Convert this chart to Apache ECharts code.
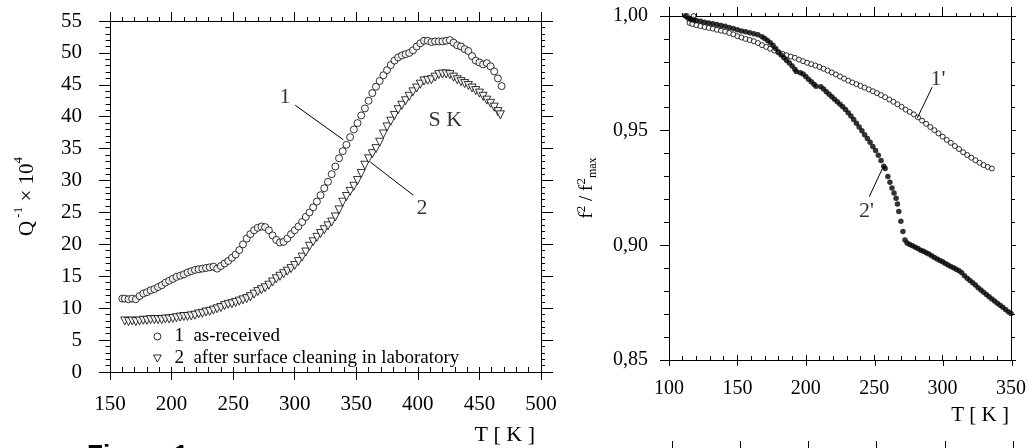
<!DOCTYPE html>
<html><head><meta charset="utf-8">
<script src="https://cdn.jsdelivr.net/npm/echarts@6/dist/echarts.min.js"></script>
<style>html,body{margin:0;padding:0;background:#fff}#c{width:1029px;height:448px}</style>
</head><body><div id="c"></div><script>
// ---------- Left panel data: Q^-1 x 10^4 vs T ----------
const legendNames = ['1  as-received', '2  after surface cleaning in laboratory'];
const T1 = [160,162,165,168,171,174,177,180,183,186,189,192,195,198,201,204,207,210,213,216,219,222,225,228,231,234,237,240,243,246,249,252,255,258,261,264,267,270,273,276,279,282,285,288,291,294,297,300,303,306,309,312,315,318,321,324,327,330,333,336,339,342,345,348,351,354,357,360,363,366,369,372,375,378,381,384,387,390,393,396,399,402,405,408,411,414,417,420,423,426,429,432,435,438,441,444,447,450,453,456,459,462,465,468];
const Q1 = [11.5,11.5,11.4,11.5,11.4,11.9,12.3,12.5,12.8,13.0,13.3,13.6,14.0,14.3,14.6,14.9,15.1,15.3,15.6,15.8,16.0,16.1,16.2,16.3,16.4,16.5,16.2,16.6,17.0,17.4,17.9,18.4,19.1,20.0,20.9,21.6,22.2,22.6,22.8,22.7,22.2,21.4,20.7,20.3,20.4,20.9,21.6,22.2,22.8,23.5,24.3,25.0,25.8,26.7,27.7,28.8,29.8,31.0,32.2,33.5,34.6,35.6,36.8,38.0,39.0,40.2,41.3,42.5,43.7,44.7,45.6,46.5,47.3,48.1,48.8,49.3,49.6,49.8,50.0,50.4,51.0,51.5,51.9,51.9,51.7,51.8,51.8,51.8,51.9,52.0,51.6,51.2,51.0,50.6,50.3,49.5,48.8,48.5,48.2,48.4,47.9,47.1,46.0,44.8];
const T2 = [162,165,168,171,174,177,180,183,186,189,192,195,198,201,204,207,210,213,216,219,222,225,228,231,234,237,240,243,246,249,252,255,258,261,264,267,270,273,276,279,282,285,288,291,294,297,300,303,306,309,312,315,318,321,324,327,330,333,336,339,342,345,348,351,354,357,360,363,366,369,372,375,378,381,384,387,390,393,396,399,402,405,408,411,414,417,420,423,426,429,432,435,438,441,444,447,450,453,456,459,462,465,467];
const Q2 = [8.0,7.9,8.0,7.9,8.0,8.1,8.1,8.2,8.2,8.2,8.2,8.3,8.3,8.4,8.5,8.6,8.7,8.7,8.8,8.9,9.1,9.2,9.4,9.5,9.7,9.9,10.1,10.4,10.6,10.7,10.9,11.1,11.3,11.5,11.8,12.2,12.6,12.9,13.2,13.6,14.1,14.6,15.0,15.4,15.8,16.2,16.7,17.3,18.0,18.8,19.7,20.4,21.1,21.7,22.3,22.9,23.5,24.3,25.4,26.6,27.5,28.3,29.1,30.0,31.1,32.4,33.4,34.2,35.0,36.0,37.3,38.4,39.3,40.2,41.1,41.8,42.5,43.2,43.9,44.5,45.1,45.6,45.7,45.8,46.2,46.6,46.7,46.7,46.6,46.2,45.8,45.5,45.2,44.9,44.5,44.1,43.7,43.2,42.6,42.1,41.5,40.8,40.3];

// ---------- Right panel data: f^2/f^2max vs T ----------
const Tr1 = [113,115,117,118,120,123,126,129,132,135,138,141,144,147,150,153,156,159,162,165,168,171,174,177,180,183,186,189,192,195,198,201,204,207,210,213,216,219,222,225,228,231,234,237,240,243,246,249,252,255,258,261,264,267,270,273,276,279,282,285,288,291,294,297,300,303,306,309,312,315,318,321,324,327,330,333,336];
const F1 = [1.000,0.9970,0.9965,1.000,0.9960,0.9956,0.9952,0.9948,0.9945,0.9940,0.9936,0.9932,0.9926,0.9920,0.9912,0.9906,0.9900,0.9895,0.9890,0.9882,0.9873,0.9865,0.9857,0.9849,0.9841,0.9835,0.9829,0.9823,0.9818,0.9810,0.9803,0.9796,0.9790,0.9784,0.9778,0.9770,0.9762,0.9754,0.9745,0.9736,0.9727,0.9718,0.9710,0.9703,0.9695,0.9688,0.9680,0.9672,0.9664,0.9655,0.9646,0.9636,0.9626,0.9615,0.9604,0.9592,0.9582,0.9571,0.9558,0.9544,0.9530,0.9516,0.9502,0.9488,0.9474,0.9460,0.9447,0.9433,0.9420,0.9406,0.9394,0.9382,0.9371,0.9360,0.9350,0.9342,0.9335];
const Tr2 = [112,114,116,118,120,123,126,129,132,135,138,141,144,147,150,153,156,159,162,165,168,170,172,174,176,178,180,182,184,186,188,190,192,193,196,198,200,202,204,206,207.5,211,213,215,217,219,221,223,225,227,229,231,233,235,237,239,241,243,245,247,249,251,253,255,257,258,260,261.5,263,264.5,266,267,268,269.5,271,272.5,274,276,278,280,282,284,286,288,290,292,294,296,298,300,302,304,306,308,310,312,314,316,318,320,322,324,326,328,330,332,334,336,338,340,342,344,346,348,350];
const F2 = [1.000,0.9990,0.9985,0.9983,0.9980,0.9977,0.9973,0.9969,0.9966,0.9963,0.9959,0.9955,0.9950,0.9945,0.9940,0.9935,0.9931,0.9927,0.9923,0.9918,0.9910,0.9902,0.9893,0.9883,0.9872,0.9858,0.9843,0.9830,0.9818,0.9806,0.9795,0.9782,0.9768,0.9758,0.9752,0.9747,0.9736,0.9724,0.9713,0.9702,0.9694,0.9692,0.9682,0.9670,0.9659,0.9648,0.9637,0.9626,0.9615,0.9604,0.9592,0.9578,0.9564,0.9549,0.9532,0.9516,0.9500,0.9482,0.9466,0.9450,0.9431,0.9413,0.9393,0.9370,0.9345,0.9335,0.9300,0.9275,0.9250,0.9228,0.9205,0.9180,0.9147,0.9105,0.9060,0.9023,0.9010,0.9004,0.8998,0.8992,0.8986,0.8979,0.8974,0.8968,0.8962,0.8955,0.8947,0.8940,0.8934,0.8928,0.8921,0.8914,0.8908,0.8902,0.8896,0.8889,0.8880,0.8867,0.8857,0.8847,0.8837,0.8827,0.8815,0.8805,0.8795,0.8786,0.8776,0.8766,0.8757,0.8748,0.8739,0.8730,0.8720,0.8710,0.8703];

// ---------- tick labels ----------
const leftXTicks = [150,200,250,300,350,400,450,500];
const leftYTicks = [0,5,10,15,20,25,30,35,40,45,50,55];
const rightXTicks = [100,150,200,250,300,350];
const rightYTicks = ['0,85','0,90','0,95','1,00'];

// ---------- annotations (data coordinates) ----------
const leaderL1 = [[300.4,41.8],[339.4,36.4]];
const leaderL2 = [[361.4,32.9],[396.3,27.7]];
const annLeft = [{t:'1',x:292.2,y:43.1},{t:'2',x:403.3,y:25.6},{t:'S K',x:422.3,y:39.4}];
const leaderR1 = [[292.4,0.969],[281.5,0.9555]];
const leaderR2 = [[246.4,0.9212],[256.0,0.9335]];
const annRight = [{t:"1'",x:296.6,y:0.9724},{t:"2'",x:244.4,y:0.9150}];

const FF = 'Liberation Serif';
const black = '#000';
const line = {show:true, onZero:false, lineStyle:{color:black, width:1}};

function xAx(grid, min, max, o) {
  return Object.assign({type:'value', gridIndex:grid, min:min, max:max, interval:50,
    splitLine:{show:false}, axisLine:line, axisLabel:{show:false}}, o);
}
function yAx(grid, min, max, interval, o) {
  return Object.assign({type:'value', gridIndex:grid, min:min, max:max, interval:interval,
    splitLine:{show:false}, axisLine:line, axisLabel:{show:false}}, o);
}
const tk = (len, inside) => ({show:true, inside:!!inside, length:len, lineStyle:{color:black, width:1}});
const mt = (len) => ({show:true, splitNumber:5, length:len, lineStyle:{color:black, width:1}});
const noLine = {show:false, onZero:false};

const chart = echarts.init(document.getElementById('c'), null, {renderer:'canvas'});
const option = {
  animation:false,
  backgroundColor:'#fff',
  grid:[
    {left:110, top:21, width:431, height:351},
    {left:110, top:21, width:431, height:351},
    {left:669, top:16, width:343, height:344},
    {left:669, top:16, width:343, height:344},
    {left:672, top:441, width:341, height:5}
  ],
  xAxis:[
    xAx(0,150,500,{position:'bottom', axisTick:tk(5,true), minorTick:mt(5),
      name:'T [ K ]', nameLocation:'end', nameGap:-6,
      nameTextStyle:{fontFamily:FF, fontSize:22, color:black, align:'right', verticalAlign:'top', padding:[52,0,0,0]},
      axisLabel:{show:true, fontFamily:FF, fontSize:21, color:black, margin:22,
        formatter:v=>String(leftXTicks[leftXTicks.indexOf(v)])}}),
    xAx(0,150,500,{position:'top', axisTick:tk(9,false), minorTick:mt(4)}),
    xAx(1,150,500,{position:'bottom', axisLine:noLine, axisTick:tk(8,false)}),
    xAx(2,100,350,{position:'bottom', axisTick:tk(5,true), minorTick:mt(4),
      name:'T [ K ]', nameLocation:'end', nameGap:-2,
      nameTextStyle:{fontFamily:FF, fontSize:21, color:black, align:'right', verticalAlign:'top', padding:[45,0,0,0]},
      axisLabel:{show:true, fontFamily:FF, fontSize:20, color:black, margin:19,
        formatter:v=>String(rightXTicks[rightXTicks.indexOf(v)])}}),
    xAx(2,100,350,{position:'top', axisTick:tk(9,false), minorTick:mt(3)}),
    xAx(3,100,350,{position:'bottom', axisLine:noLine, axisTick:tk(6,false)}),
    xAx(4,100,350,{position:'top', axisLine:noLine, axisTick:tk(10,true)})
  ],
  yAxis:[
    yAx(0,0,55,5,{position:'left', axisTick:tk(11,false), minorTick:mt(4.5),
      name:'{m|Q}{s| -1}{m| × 10}{s|4}', nameLocation:'middle', nameGap:72,
      nameTextStyle:{rich:{
        m:{fontFamily:FF, fontSize:21, color:black, lineHeight:26, verticalAlign:'bottom'},
        s:{fontFamily:FF, fontSize:13, color:black, lineHeight:26, verticalAlign:'top'}}},
      axisLabel:{show:true, fontFamily:FF, fontSize:21, color:black, margin:28,
        formatter:v=>String(leftYTicks[leftYTicks.indexOf(v)])}}),
    yAx(0,0,55,5,{position:'right', axisTick:tk(12,false), minorTick:mt(4)}),
    yAx(1,0,55,5,{show:false}),
    yAx(2,0.85,1.0,0.05,{position:'left', axisTick:tk(9,false), minorTick:mt(5),
      name:'{m|f}{s|2}{m| / f}{s|2}{b|max}', nameLocation:'middle', nameGap:70,
      nameTextStyle:{rich:{
        m:{fontFamily:FF, fontSize:19, color:black, lineHeight:24, verticalAlign:'middle'},
        s:{fontFamily:FF, fontSize:13, color:black, lineHeight:24, verticalAlign:'top'},
        b:{fontFamily:FF, fontSize:12, color:black, lineHeight:24, verticalAlign:'bottom'}}},
      axisLabel:{show:true, fontFamily:FF, fontSize:20, color:black, margin:21,
        formatter:v=>rightYTicks[Math.round((v-0.85)/0.05)]}}),
    yAx(2,0.85,1.0,0.05,{position:'right', axisTick:tk(5,false), minorTick:mt(4)}),
    yAx(3,0.85,1.0,0.05,{show:false}),
    yAx(4,0,1,1,{show:false})
  ],
  legend:{
    orient:'vertical', left:148, top:322, itemGap:3, itemWidth:8, itemHeight:7,
    textStyle:{fontFamily:FF, fontSize:19, color:black, padding:[0,0,0,8]},
    data:[
      {name:legendNames[0], icon:'circle', itemStyle:{color:'#fff', borderColor:black, borderWidth:1}},
      {name:legendNames[1], icon:'path://M0,0L10,0L5,9Z', itemStyle:{color:'#fff', borderColor:black, borderWidth:1}}
    ]
  },
  graphic:[
    {type:'text', x:87, y:443, style:{text:'Figure 1', font:'bold 26px "Liberation Sans"', fill:black, verticalAlign:'top'}}
  ],
  series:[
    {type:'scatter', name:legendNames[0], xAxisIndex:0, yAxisIndex:0, symbol:'circle', symbolSize:7,
      itemStyle:{color:'#fff', borderColor:black, borderWidth:1}, data:T1.map((t,i)=>[t,Q1[i]])},
    {type:'scatter', name:legendNames[1], xAxisIndex:0, yAxisIndex:0, symbol:'triangle', symbolRotate:180, symbolSize:8,
      itemStyle:{color:'#fff', borderColor:black, borderWidth:1}, data:T2.map((t,i)=>[t,Q2[i]])},
    {type:'line', xAxisIndex:0, yAxisIndex:0, data:leaderL1, symbol:'none', silent:true, lineStyle:{color:black, width:1}},
    {type:'line', xAxisIndex:0, yAxisIndex:0, data:leaderL2, symbol:'none', silent:true, lineStyle:{color:black, width:1}},
    {type:'scatter', xAxisIndex:0, yAxisIndex:0, symbolSize:1, itemStyle:{color:'rgba(0,0,0,0)'}, silent:true,
      data:annLeft.map(a=>[a.x,a.y,a.t]),
      label:{show:true, position:'inside', formatter:p=>p.data[2], fontFamily:FF, fontSize:22, color:black}},
    {type:'scatter', name:"1'", xAxisIndex:3, yAxisIndex:3, symbol:'circle', symbolSize:5,
      itemStyle:{color:'#fff', borderColor:black, borderWidth:1}, data:Tr1.map((t,i)=>[t,F1[i]])},
    {type:'scatter', name:"2'", xAxisIndex:3, yAxisIndex:3, symbol:'circle', symbolSize:5.5,
      itemStyle:{color:black}, data:Tr2.map((t,i)=>[t,F2[i]])},
    {type:'line', xAxisIndex:3, yAxisIndex:3, data:leaderR1, symbol:'none', silent:true, lineStyle:{color:black, width:1}},
    {type:'line', xAxisIndex:3, yAxisIndex:3, data:leaderR2, symbol:'none', silent:true, lineStyle:{color:black, width:1}},
    {type:'scatter', xAxisIndex:3, yAxisIndex:3, symbolSize:1, itemStyle:{color:'rgba(0,0,0,0)'}, silent:true,
      data:annRight.map(a=>[a.x,a.y,a.t]),
      label:{show:true, position:'inside', formatter:p=>p.data[2], fontFamily:FF, fontSize:22, color:black}}
  ]
};
chart.setOption(option);
</script></body></html>
